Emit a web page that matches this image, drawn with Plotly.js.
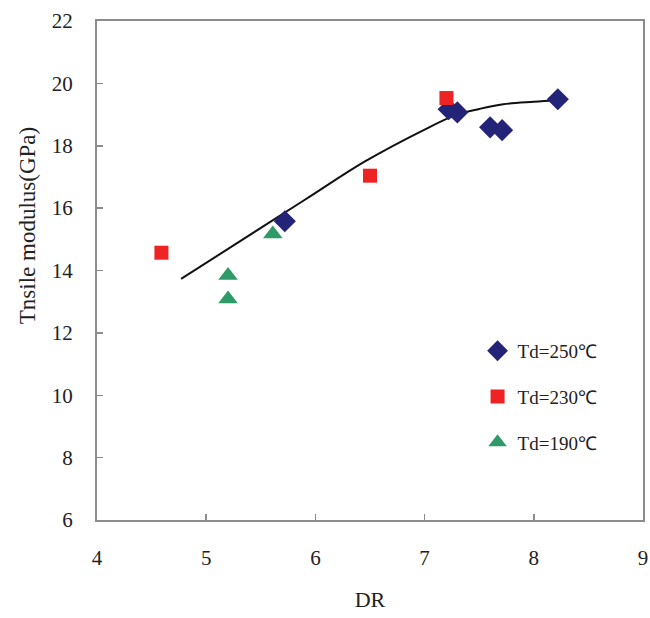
<!DOCTYPE html>
<html>
<head>
<meta charset="utf-8">
<script src="https://cdn.plot.ly/plotly-3.0.1.min.js"></script>
<style>
body{margin:0;padding:0;background:#fff;}
#chart{width:650px;height:618px;}
</style>
</head>
<body>
<div id="chart"></div>
<script>
// Data
const td250X = [5.72, 7.22, 7.30, 7.60, 7.71, 8.22];
const td250Y = [15.58, 19.17, 19.07, 18.59, 18.50, 19.49];
const td230X = [4.59, 6.50, 7.20];
const td230Y = [14.57, 17.04, 19.53];
const td190X = [5.61, 5.20, 5.20];
const td190Y = [15.17, 13.84, 13.09];
const fitX = [4.77, 5.90, 6.45, 7.00, 7.29, 7.50, 7.72, 8.00, 8.22];
const fitY = [13.73, 16.26, 17.49, 18.52, 18.99, 19.18, 19.33, 19.41, 19.46];
const legendNames = ['Td=250℃', 'Td=230℃', 'Td=190℃'];
const xTicks = [4, 5, 6, 7, 8, 9];
const yTicks = [6, 8, 10, 12, 14, 16, 18, 20, 22];

const serif = 'Liberation Serif, Times New Roman, serif';
const traces = [
  {x: fitX, y: fitY, mode: 'lines', line: {shape: 'spline', color: '#111', width: 2}, showlegend: false, hoverinfo: 'skip'},
  {x: td250X, y: td250Y, mode: 'markers', name: legendNames[0], legendgroup: 'a',
   marker: {symbol: 'diamond', size: 17, color: '#232378'}},
  {x: td230X, y: td230Y, mode: 'markers', name: legendNames[1], legendgroup: 'b',
   marker: {symbol: 'square', size: 14, color: '#ee2424'}},
  {x: td190X, y: td190Y, mode: 'markers', name: legendNames[2], legendgroup: 'c',
   marker: {symbol: 'triangle-up', size: 17, color: '#2e9a68'}}
];

const axisCommon = {
  showgrid: false, zeroline: false, showline: true, mirror: true,
  linecolor: '#8c8c8c', linewidth: 2,
  ticks: 'inside', ticklen: 6, tickwidth: 1.5, tickcolor: '#8c8c8c',
  ticklabeloverflow: 'allow',
  tickfont: {family: serif, size: 21, color: '#222'}
};

const layout = {
  width: 650, height: 618,
  margin: {l: 97, r: 7, t: 21, b: 98},
  paper_bgcolor: '#fff', plot_bgcolor: '#fff',
  showlegend: true,
  xaxis: Object.assign({}, axisCommon, {
    range: [4, 9], tickvals: xTicks, ticktext: xTicks.map(String),
    ticklabelstandoff: 18,
    title: {text: 'DR', font: {family: serif, size: 22, color: '#222'}, standoff: 22}
  }),
  yaxis: Object.assign({}, axisCommon, {
    range: [6, 22], tickvals: yTicks, ticktext: yTicks.map(String),
    ticklabelstandoff: 18
  }),
  annotations: [{
    text: 'Tnsile modulus(GPa)', xref: 'paper', yref: 'paper',
    x: -0.127, y: 0.59, xanchor: 'center', yanchor: 'middle', textangle: -90,
    showarrow: false, font: {family: serif, size: 23, color: '#222'}
  }],
  legend: {
    x: 0.697, y: 0.377, xanchor: 'left', yanchor: 'top',
    bgcolor: 'rgba(0,0,0,0)', traceorder: 'grouped', tracegroupgap: 18,
    font: {family: serif, size: 19, color: '#222'}
  }
};

Plotly.newPlot('chart', traces, layout, {displayModeBar: false, staticPlot: true});
</script>
</body>
</html>
